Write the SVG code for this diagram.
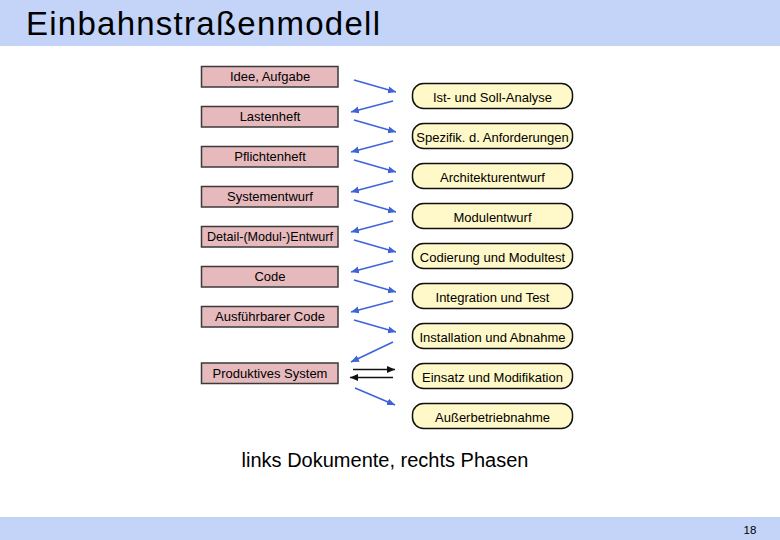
<svg xmlns="http://www.w3.org/2000/svg" width="780" height="540" viewBox="0 0 780 540">
<style>
text{font-family:"Liberation Sans",Arial,sans-serif;fill:#000}
.doc rect{fill:#e6b9bd;stroke:#3a3a3a;stroke-width:1.5}
.ph rect{fill:#fff8c8;stroke:#111;stroke-width:1.5}
.lbl{font-size:13px;text-anchor:middle}
.blue{stroke:#3d63d8;stroke-width:1.6;fill:none;marker-end:url(#ab)}
.black{stroke:#111;stroke-width:1.6;fill:none;marker-end:url(#ak)}
</style>
<defs>
<marker id="ab" markerUnits="userSpaceOnUse" markerWidth="10" markerHeight="8" refX="8" refY="3.5" orient="auto"><path d="M0,0 L8,3.5 L0,7 Z" fill="#3d63d8"/></marker>
<marker id="ak" markerUnits="userSpaceOnUse" markerWidth="10" markerHeight="8" refX="8" refY="3.5" orient="auto"><path d="M0,0 L8,3.5 L0,7 Z" fill="#111"/></marker>
</defs>
<rect x="0" y="0" width="780" height="46" fill="#c3d4f8"/>
<text x="26" y="35" font-size="33" textLength="354" lengthAdjust="spacing">Einbahnstraßenmodell</text>
<rect x="0" y="517" width="780" height="23" fill="#c3d4f8"/>
<text x="750" y="534" font-size="11.5" text-anchor="middle">18</text>

<g id="d1" class="doc"><rect x="201.5" y="66.5" width="136.5" height="20.5"/><text class="lbl" x="270" y="81">Idee, Aufgabe</text></g>
<g id="d2" class="doc"><rect x="201.5" y="106.5" width="136.5" height="20.5"/><text class="lbl" x="270" y="121">Lastenheft</text></g>
<g id="d3" class="doc"><rect x="201.5" y="146.5" width="136.5" height="20.5"/><text class="lbl" x="270" y="161">Pflichtenheft</text></g>
<g id="d4" class="doc"><rect x="201.5" y="186.5" width="136.5" height="20.5"/><text class="lbl" x="270" y="201">Systementwurf</text></g>
<g id="d5" class="doc"><rect x="201.5" y="226.5" width="136.5" height="20.5"/><text class="lbl" x="270" y="241" textLength="126" lengthAdjust="spacingAndGlyphs">Detail-(Modul-)Entwurf</text></g>
<g id="d6" class="doc"><rect x="201.5" y="266.5" width="136.5" height="20.5"/><text class="lbl" x="270" y="281">Code</text></g>
<g id="d7" class="doc"><rect x="201.5" y="306.5" width="136.5" height="20.5"/><text class="lbl" x="270" y="321">Ausführbarer Code</text></g>
<g id="d8" class="doc"><rect x="201.5" y="363" width="136.5" height="20.5"/><text class="lbl" x="270" y="377.5">Produktives System</text></g>

<g id="p1" class="ph"><rect x="412.5" y="83.5" width="160" height="25" rx="11"/><text class="lbl" x="492.5" y="101.5">Ist- und Soll-Analyse</text></g>
<g id="p2" class="ph"><rect x="412.5" y="123.5" width="160" height="25" rx="11"/><text class="lbl" x="492.5" y="141.5">Spezifik. d. Anforderungen</text></g>
<g id="p3" class="ph"><rect x="412.5" y="163.5" width="160" height="25" rx="11"/><text class="lbl" x="492.5" y="181.5">Architekturentwurf</text></g>
<g id="p4" class="ph"><rect x="412.5" y="203.5" width="160" height="25" rx="11"/><text class="lbl" x="492.5" y="221.5">Modulentwurf</text></g>
<g id="p5" class="ph"><rect x="412.5" y="243.5" width="160" height="25" rx="11"/><text class="lbl" x="492.5" y="261.5">Codierung und Modultest</text></g>
<g id="p6" class="ph"><rect x="412.5" y="283.5" width="160" height="25" rx="11"/><text class="lbl" x="492.5" y="301.5">Integration und Test</text></g>
<g id="p7" class="ph"><rect x="412.5" y="323.5" width="160" height="25" rx="11"/><text class="lbl" x="492.5" y="341.5">Installation und Abnahme</text></g>
<g id="p8" class="ph"><rect x="412.5" y="363.5" width="160" height="25" rx="11"/><text class="lbl" x="492.5" y="381.5">Einsatz und Modifikation</text></g>
<g id="p9" class="ph"><rect x="412.5" y="403.5" width="160" height="25" rx="11"/><text class="lbl" x="492.5" y="421.5">Außerbetriebnahme</text></g>

<g id="connectors">
<line class="blue" x1="354" y1="80" x2="396" y2="92"/>
<line class="blue" x1="354" y1="120" x2="396" y2="132"/>
<line class="blue" x1="354" y1="160" x2="396" y2="172"/>
<line class="blue" x1="354" y1="200" x2="396" y2="212"/>
<line class="blue" x1="354" y1="240" x2="396" y2="252"/>
<line class="blue" x1="354" y1="280" x2="396" y2="292"/>
<line class="blue" x1="354" y1="320" x2="396" y2="332"/>
<line class="blue" x1="393" y1="101" x2="351" y2="112"/>
<line class="blue" x1="393" y1="141" x2="351" y2="152"/>
<line class="blue" x1="393" y1="181" x2="351" y2="192"/>
<line class="blue" x1="393" y1="221" x2="351" y2="232"/>
<line class="blue" x1="393" y1="261" x2="351" y2="272"/>
<line class="blue" x1="393" y1="301" x2="351" y2="312"/>
<line class="blue" x1="393" y1="342" x2="351" y2="362"/>
<line class="black" x1="353" y1="369.5" x2="395" y2="369.5"/>
<line class="black" x1="393" y1="377.5" x2="350" y2="377.5"/>
<line class="blue" x1="355" y1="388" x2="395" y2="405"/>
</g>

<text x="385" y="467" font-size="20" text-anchor="middle">links Dokumente, rechts Phasen</text>
</svg>
